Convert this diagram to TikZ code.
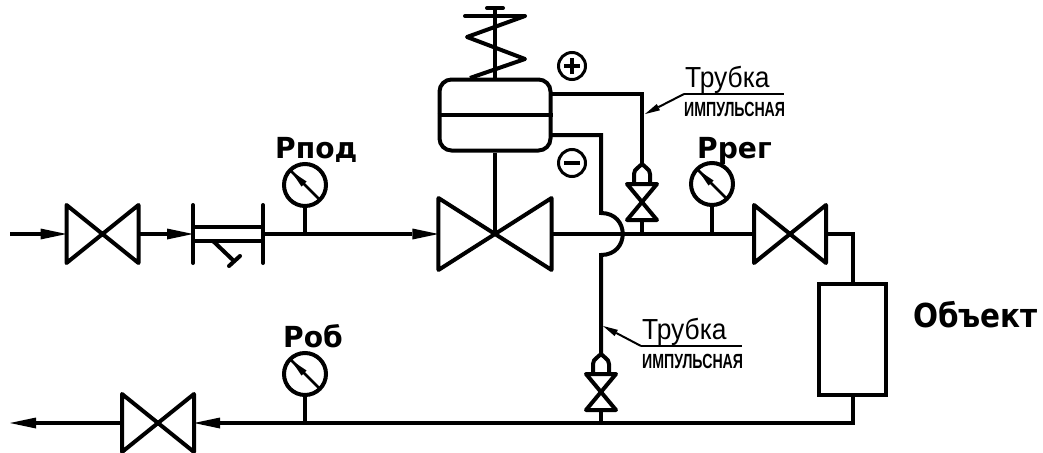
\documentclass[tikz,border=0pt]{standalone}
\usepackage{fontspec}
\setmainfont{Liberation Sans}
\newfontfamily\heavyfont{DejaVu Sans}
\usetikzlibrary{arrows.meta}
\tikzset{
  x=1pt,y=-1pt,
  pipe/.style={line width=4pt,line join=miter},
  flow/.style={pipe,-{Triangle[length=26pt,width=11pt,line width=0pt]}},
  thinlead/.style={line width=2pt,-{Triangle[length=15pt,width=7pt,line width=0pt]}},
  under/.style={line width=2pt},
  gaugebody/.style={circle,draw,line width=4pt,minimum size=42pt,inner sep=0pt},
  biglabel/.style={font=\heavyfont\bfseries\fontsize{29}{29}\selectfont,anchor=base west,inner sep=0pt,transform shape,xscale=.97},
  tubelabel/.style={font=\fontsize{29}{29}\selectfont,anchor=base west,inner sep=0pt,transform shape,xscale=.91},
  implabel/.style={font=\bfseries\fontsize{20.5}{20.5}\selectfont,anchor=base west,inner sep=0pt,transform shape,xscale=.69},
  valve/.pic={
    \draw[line width=4pt,line join=round,line cap=round] (-36,-29)--(36,29)--(36,-29)--(-36,29)--cycle;
    \coordinate (-w) at (-36,0);
    \coordinate (-e) at (36,0);
    \coordinate (-c) at (0,0);
  },
  smallvalve/.pic={
    \draw[line width=4pt,line join=round,line cap=round] (-15,-18)--(15,-18)--(-15,18)--(15,18)--cycle;
    \draw[line width=4pt,line join=round] (-8,-18)--(-8,-28) .. controls (-8,-31) .. (0,-38) .. controls (8,-31) .. (8,-28)--(8,-18);
    \coordinate (-n) at (0,-38);
    \coordinate (-s) at (0,18);
  },
  needle/.pic={
    \draw[line width=2.5pt] (-14,-14)--(15,15);
    \fill (-14,-14)--(1.5,-3.5)--(-3.5,1.5)--cycle;
  },
}
\begin{document}
\begin{tikzpicture}
\useasboundingbox (0,0) rectangle (1043,452);

% valves
\pic (va) at (102.5,234) {valve};
\pic[xscale=1.57,yscale=1.24] (vb) at (495,234) {valve};
\pic (vc) at (790,234) {valve};
\pic (vd) at (158,423) {valve};
\pic (sa) at (642,202) {smallvalve};
\pic (sb) at (601,392) {smallvalve};

% gauges
\node[gaugebody] (ga) at (305,185) {};
\node[gaugebody] (gb) at (712,184) {};
\node[gaugebody] (gc) at (305,374) {};
\pic at (ga.center) {needle};
\pic at (gb.center) {needle};
\pic at (gc.center) {needle};

% actuator and object
\node[draw,line width=4pt,rounded corners=12pt,minimum width=111pt,minimum height=71pt,inner sep=0pt] (diaphragm) at (495,115) {};
\draw[line width=4pt] (diaphragm.west)--(diaphragm.east);
\node[draw,line width=4pt,minimum width=67pt,minimum height=111pt,inner sep=0pt] (object) at (852.5,339.5) {};

% named points
\coordinate (start) at (10,234);
\coordinate (filterw) at (193,234);
\coordinate (filtere) at (263,234);
\coordinate (ga0) at (305,234);
\coordinate (gb0) at (712,234);
\coordinate (gc0) at (305,423);
\coordinate (corner) at (852.5,234);
\coordinate (cornerb) at (852.5,423);
\coordinate (stub) at (642,234);
\coordinate (stubb) at (601,423);
\coordinate (end) at (10,423);
\coordinate (plusa) at (550,94);
\coordinate (plusb) at (642,94);
\coordinate (minusa) at (550,135);
\coordinate (minusb) at (601,135);
\coordinate (bumpa) at (601,213);
\coordinate (bumpb) at (601,255);
\coordinate (stemtop) at (495,8);

% main lines
\draw[flow] (start)--(va-w);
\draw[flow] (va-e)--(filterw);
\draw[flow] (filtere)--(vb-w);
\draw[pipe] (vb-e)--(vc-w);
\draw[pipe] (vc-e)--(corner)--(object.north);
\draw[pipe] (object.south)--(cornerb)--(stubb);
\draw[flow] (cornerb)--(vd-e);
\draw[flow] (vd-w)--(end);

% filter
\coordinate (fa) at (193,205);\coordinate (fb) at (193,263);
\coordinate (fc) at (263,205);\coordinate (fd) at (263,263);
\draw[pipe,line cap=round] (fa)--(fb);
\draw[pipe,line cap=round] (fc)--(fd);
\draw[pipe] (193,227)--(263,227);
\draw[pipe] (193,241)--(263,241);
\coordinate (fs) at (213,241);\coordinate (ft) at (235,262);
\coordinate (fu) at (229,266);\coordinate (fv) at (240,256);
\draw[pipe] (fs)--(ft);
\draw[pipe,line cap=round] (fu)--(fv);

% stems
\draw[pipe] (ga.south)--(ga0);
\draw[pipe] (gb.south)--(gb0);
\draw[pipe] (gc.south)--(gc0);
\draw[pipe] (sa-s)--(stub);
\draw[pipe] (sb-s)--(stubb);
\draw[pipe] (diaphragm.south)--(vb-c);

% spring and handle
\draw[pipe] (diaphragm.north)--(stemtop);
\coordinate (ha) at (465,16);\coordinate (hb) at (525,16);
\coordinate (hc) at (487,8);\coordinate (hd) at (503,8);
\coordinate (za) at (467,37);\coordinate (zb) at (525,59);\coordinate (zc) at (470,78);
\draw[pipe,line cap=round] (ha)--(hb);
\draw[pipe,line cap=round] (hc)--(hd);
\draw[line width=4pt,line join=round] (hb)--(za)--(zb)--(zc);

% impulse tubes
\draw[pipe] (plusa)--(plusb)--(sa-n);
\draw[pipe] (minusa)--(minusb)--(bumpa) .. controls (630,213) and (630,255) .. (bumpb)--(sb-n);

% plus and minus
\node[circle,draw,line width=3pt,minimum size=27pt,inner sep=0pt] (plus) at (572,66) {};
\node[circle,draw,line width=3pt,minimum size=27pt,inner sep=0pt] (minus) at (572,163) {};
\draw[pipe] ([xshift=-8pt]plus.center)--([xshift=8pt]plus.center);
\draw[pipe] ([yshift=-8pt]plus.center)--([yshift=8pt]plus.center);
\draw[pipe] ([xshift=-8pt]minus.center)--([xshift=8pt]minus.center);

% labels
\node[biglabel] (lpod) at (275,158) {Рпод};
\node[biglabel] (lreg) at (697,158) {Ррег};
\node[biglabel] (lob) at (283,347) {Роб};
\node[biglabel,font=\heavyfont\bfseries\fontsize{33}{33}\selectfont,xscale=.92] (lobj) at (913,327) {Объект};

\node[tubelabel] (ta) at (685,87) {Трубка};
\node[implabel] (ia) at (684,116) {ИМПУЛЬСНАЯ};
\coordinate (ua) at (684,94);\coordinate (ub) at (784,94);
\coordinate (ap) at (645,114);
\draw[under] (ua)--(ub);
\draw[thinlead] (ua)--(ap);

\node[tubelabel] (tb) at (642,339) {Трубка};
\node[implabel] (ib) at (642,368) {ИМПУЛЬСНАЯ};
\coordinate (uc) at (641,346);\coordinate (ud) at (742,346);
\coordinate (bp) at (603,326);
\draw[under] (uc)--(ud);
\draw[thinlead] (uc)--(bp);
\end{tikzpicture}
\end{document}
